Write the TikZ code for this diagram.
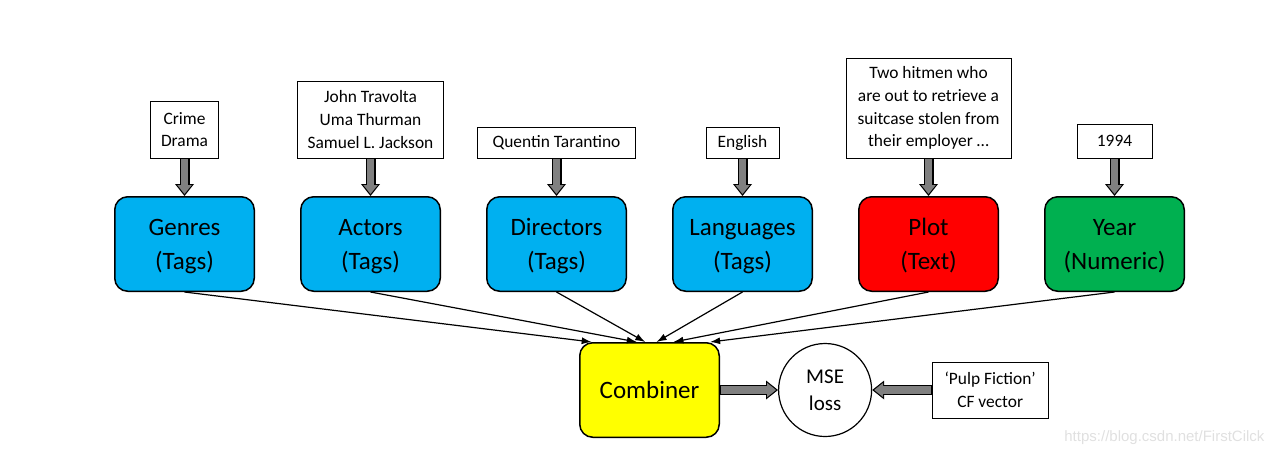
\documentclass[tikz,border=0pt]{standalone}
\usepackage{fontspec}
\setmainfont{Carlito}
\newfontfamily\markfont{Liberation Sans}
\usetikzlibrary{positioning, arrows.meta, calc}

\definecolor{tagblue}{RGB}{0,176,240}
\definecolor{textred}{RGB}{255,0,0}
\definecolor{numgreen}{RGB}{0,176,80}
\definecolor{combyellow}{RGB}{255,255,0}
\definecolor{fatgray}{RGB}{128,128,128}

\newcommand{\tagfont}{\fontsize{25}{34}\selectfont}
\newcommand{\notefont}{\fontsize{17.4}{22.8}\selectfont}
\newcommand{\lossfont}{\fontsize{21}{27}\selectfont}

\tikzset{
  featbox/.style={draw, line width=1.5pt, rounded corners=13pt, minimum width=139.5pt,
    minimum height=94.5pt, align=center, font=\tagfont, text depth=-8pt},
  notebox/.style={draw, line width=1pt, fill=white, align=center, font=\notefont, inner sep=0pt},
  fatarrow/.style={draw=fatgray, line width=7.5pt,
    -{Triangle[length=9pt,width=14.5pt,line width=0pt]}, shorten >=2pt, shorten <=0.75pt,
    preaction={draw=black, line width=10pt,
      -{Triangle[length=12pt,width=19pt,line width=0pt]}, shorten >=0pt, shorten <=0pt}},
  thinarrow/.style={line width=1.2pt, -{Latex[length=10pt,width=7pt]}}
}

\begin{document}
\begin{tikzpicture}[x=1pt, y=-1pt, node distance=45pt]
    \useasboundingbox (0,0) rectangle (1277,456);

    % feature encoders
    \node[featbox, fill=tagblue] (genres) at (184.5,244) {Genres\\(Tags)};
    \node[featbox, fill=tagblue, right=of genres] (actors) {Actors\\(Tags)};
    \node[featbox, fill=tagblue, right=of actors] (directors) {Directors\\(Tags)};
    \node[featbox, fill=tagblue, right=of directors] (languages) {Languages\\(Tags)};
    \node[featbox, fill=textred, right=of languages] (plot) {Plot\\(Text)};
    \node[featbox, fill=numgreen, right=of plot] (year) {Year\\(Numeric)};

    % example values for one movie
    \node[notebox, minimum width=68pt, minimum height=57pt, above=37.5pt of genres] (genrenote) {Crime\\Drama};
    \node[notebox, minimum width=146pt, minimum height=77pt, above=37.5pt of actors] (actornote)
      {John Travolta\\Uma Thurman\\Samuel L. Jackson};
    \node[notebox, minimum width=158pt, minimum height=31pt, above=37.5pt of directors] (directornote) {Quentin Tarantino};
    \node[notebox, minimum width=73pt, minimum height=31pt, above=37.5pt of languages] (languagenote) {English};
    \node[notebox, minimum width=165pt, minimum height=100pt, above=37.5pt of plot] (plotnote)
      {Two hitmen who\\are out to retrieve a\\suitcase stolen from\\their employer …};
    \node[notebox, minimum width=75pt, minimum height=34pt, above=37.5pt of year] (yearnote) {1994};

    \foreach \a/\b in {genrenote/genres, actornote/actors, directornote/directors,
                       languagenote/languages, plotnote/plot, yearnote/year}
      \draw[fatarrow] (\a.south) -- (\b.north);

    % combiner and loss
    \node[featbox, fill=combyellow] (comb) at (649.5,390) {Combiner};
    \node[draw, circle, line width=1.2pt, minimum size=93pt, inner sep=0pt, align=center,
          font=\lossfont, text depth=-2pt, right=58pt of comb] (mse) {MSE\\loss};
    \node[notebox, minimum width=116pt, minimum height=56pt, right=59.5pt of mse] (cfvec)
      {‘Pulp Fiction’\\CF vector};

    \foreach \src/\pos in {genres/0.09, actors/0.41, directors/0.47,
                           languages/0.55, plot/0.67, year/0.93}
      \draw[thinarrow] (\src.south) -- ($(comb.north west)!\pos!(comb.north east)$);

    \draw[fatarrow] (comb.east) -- (mse.west);
    \draw[fatarrow] (cfvec.west) -- (mse.east);

    \node[anchor=east, text=black!12, font=\markfont\fontsize{15}{15}\selectfont] (wmark)
      at (1268,438) {https://blog.csdn.net/FirstCilck};
\end{tikzpicture}
\end{document}
